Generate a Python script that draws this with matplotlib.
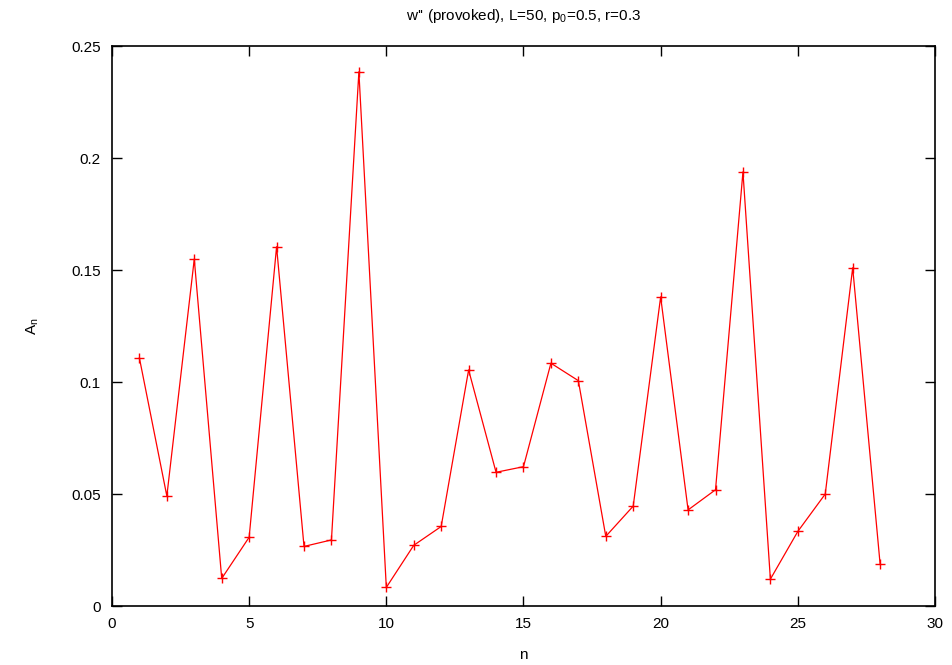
import matplotlib
matplotlib.use("Agg")
import matplotlib.pyplot as plt

# data
n_values = list(range(1, 29))
a_values = [0.1107, 0.0491, 0.1549, 0.0123, 0.0307, 0.1604, 0.0266, 0.0295,
            0.2385, 0.0083, 0.0271, 0.0355, 0.1054, 0.0597, 0.0622, 0.1084,
            0.1006, 0.0311, 0.0446, 0.1380, 0.0429, 0.0519, 0.1938, 0.0120,
            0.0333, 0.0500, 0.1510, 0.0187]
x_ticks = [0, 5, 10, 15, 20, 25, 30]
y_ticks = [0, 0.05, 0.1, 0.15, 0.2, 0.25]
y_labels = ["0", "0.05", "0.1", "0.15", "0.2", "0.25"]

plt.rcParams["font.family"] = ["Liberation Sans", "DejaVu Sans"]
plt.rcParams["font.size"] = 11

fig = plt.figure(figsize=(9.53, 6.65), dpi=100)
ax = fig.add_axes([0.1175, 0.0887, 0.8636, 0.8421])

ax.plot(n_values, a_values, color="red", lw=0.9, marker="+", ms=6.5, mew=1.0)

ax.set_xlim(0, 30)
ax.set_ylim(0, 0.25)
ax.set_xticks(x_ticks)
ax.set_yticks(y_ticks)
ax.set_yticklabels(y_labels)
ax.tick_params(direction="in", length=7, width=1, top=True, right=True, pad=8)
for s in ax.spines.values():
    s.set_linewidth(1.2)

ax.set_xlabel("n", labelpad=12)
ax.set_ylabel("A$_\\mathregular{n}$", labelpad=22, rotation=90)
ax.set_title("w'' (provoked), L=50, p$_\\mathregular{0}$=0.5, r=0.3", fontsize=11, pad=19)

fig.savefig("out.png", dpi=100)
